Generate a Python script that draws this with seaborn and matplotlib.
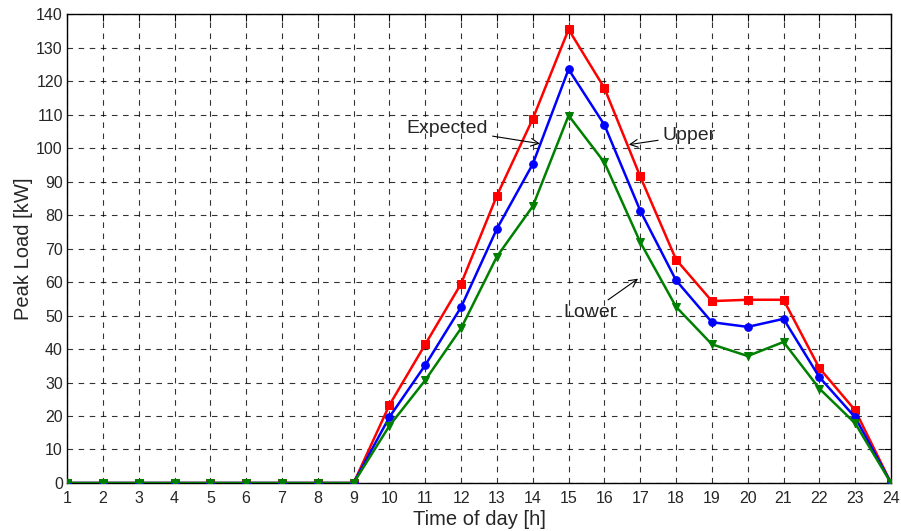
import matplotlib
matplotlib.use("Agg")
import matplotlib.pyplot as plt
import seaborn as sns
import pandas as pd

hours = list(range(1, 25))
upper = [0, 0, 0, 0, 0, 0, 0, 0, 0, 23.3, 41.4, 59.5, 85.8, 108.7, 135.4, 117.9,
         91.5, 66.7, 54.3, 54.7, 54.7, 34.3, 21.7, 0]
expected = [0, 0, 0, 0, 0, 0, 0, 0, 0, 19.7, 35.2, 52.5, 75.9, 95.2, 123.5, 106.9,
            81.3, 60.5, 48.0, 46.6, 49.0, 31.6, 19.6, 0]
lower = [0, 0, 0, 0, 0, 0, 0, 0, 0, 17.1, 30.7, 46.2, 67.6, 82.6, 109.7, 95.7,
         71.9, 52.6, 41.4, 37.9, 42.1, 28.2, 17.8, 0]

sns.set_theme(style="white")
plt.rcParams['font.family'] = ['Liberation Sans', 'DejaVu Sans']

df = pd.DataFrame({"hour": hours, "Upper": upper, "Expected": expected, "Lower": lower})

fig = plt.figure(figsize=(9.01, 5.31), dpi=100)
ax = fig.add_axes([0.0744, 0.0904, 0.9145, 0.8832])

specs = [("Upper", "#ff0000", "s"), ("Expected", "#0000ff", "o"), ("Lower", "#008000", "v")]
for name, col, mk in specs:
    sns.lineplot(data=df, x="hour", y=name, ax=ax, color=col, marker=mk,
                 markersize=5.5, markeredgecolor=col, linewidth=1.8, zorder=3)

ax.set_xlim(1, 24)
ax.set_ylim(0, 140)
ax.set_xticks(hours)
ax.set_yticks(range(0, 141, 10))
ax.grid(True, color="black", linestyle=(0, (5, 5)), linewidth=0.8, alpha=0.8)
ax.tick_params(direction="in", top=True, right=True, length=5, width=0.8,
               labelsize=11.5, color="black")
ax.tick_params(axis="x", pad=6)
ax.tick_params(axis="y", pad=3)
for s in ax.spines.values():
    s.set_color("black")
    s.set_linewidth(1.0)
ax.set_xlabel("Time of day [h]", fontsize=14.5, labelpad=2.5)
ax.set_ylabel("Peak Load [kW]", fontsize=14.5, labelpad=2)

arrow = dict(arrowstyle="->", color="black", lw=0.8, shrinkA=1, shrinkB=0)
ax.annotate("Expected", xy=(14.2, 101.3), xytext=(12.75, 105.7), ha="right", va="center",
            fontsize=14, arrowprops=arrow)
ax.annotate("Upper", xy=(16.68, 101.0), xytext=(17.63, 103.7), ha="left", va="center",
            fontsize=14, arrowprops=arrow)
ax.annotate("Lower", xy=(16.94, 61.0), xytext=(16.35, 50.9), ha="right", va="center",
            fontsize=14, arrowprops=arrow)

fig.savefig("out.png", dpi=100)
